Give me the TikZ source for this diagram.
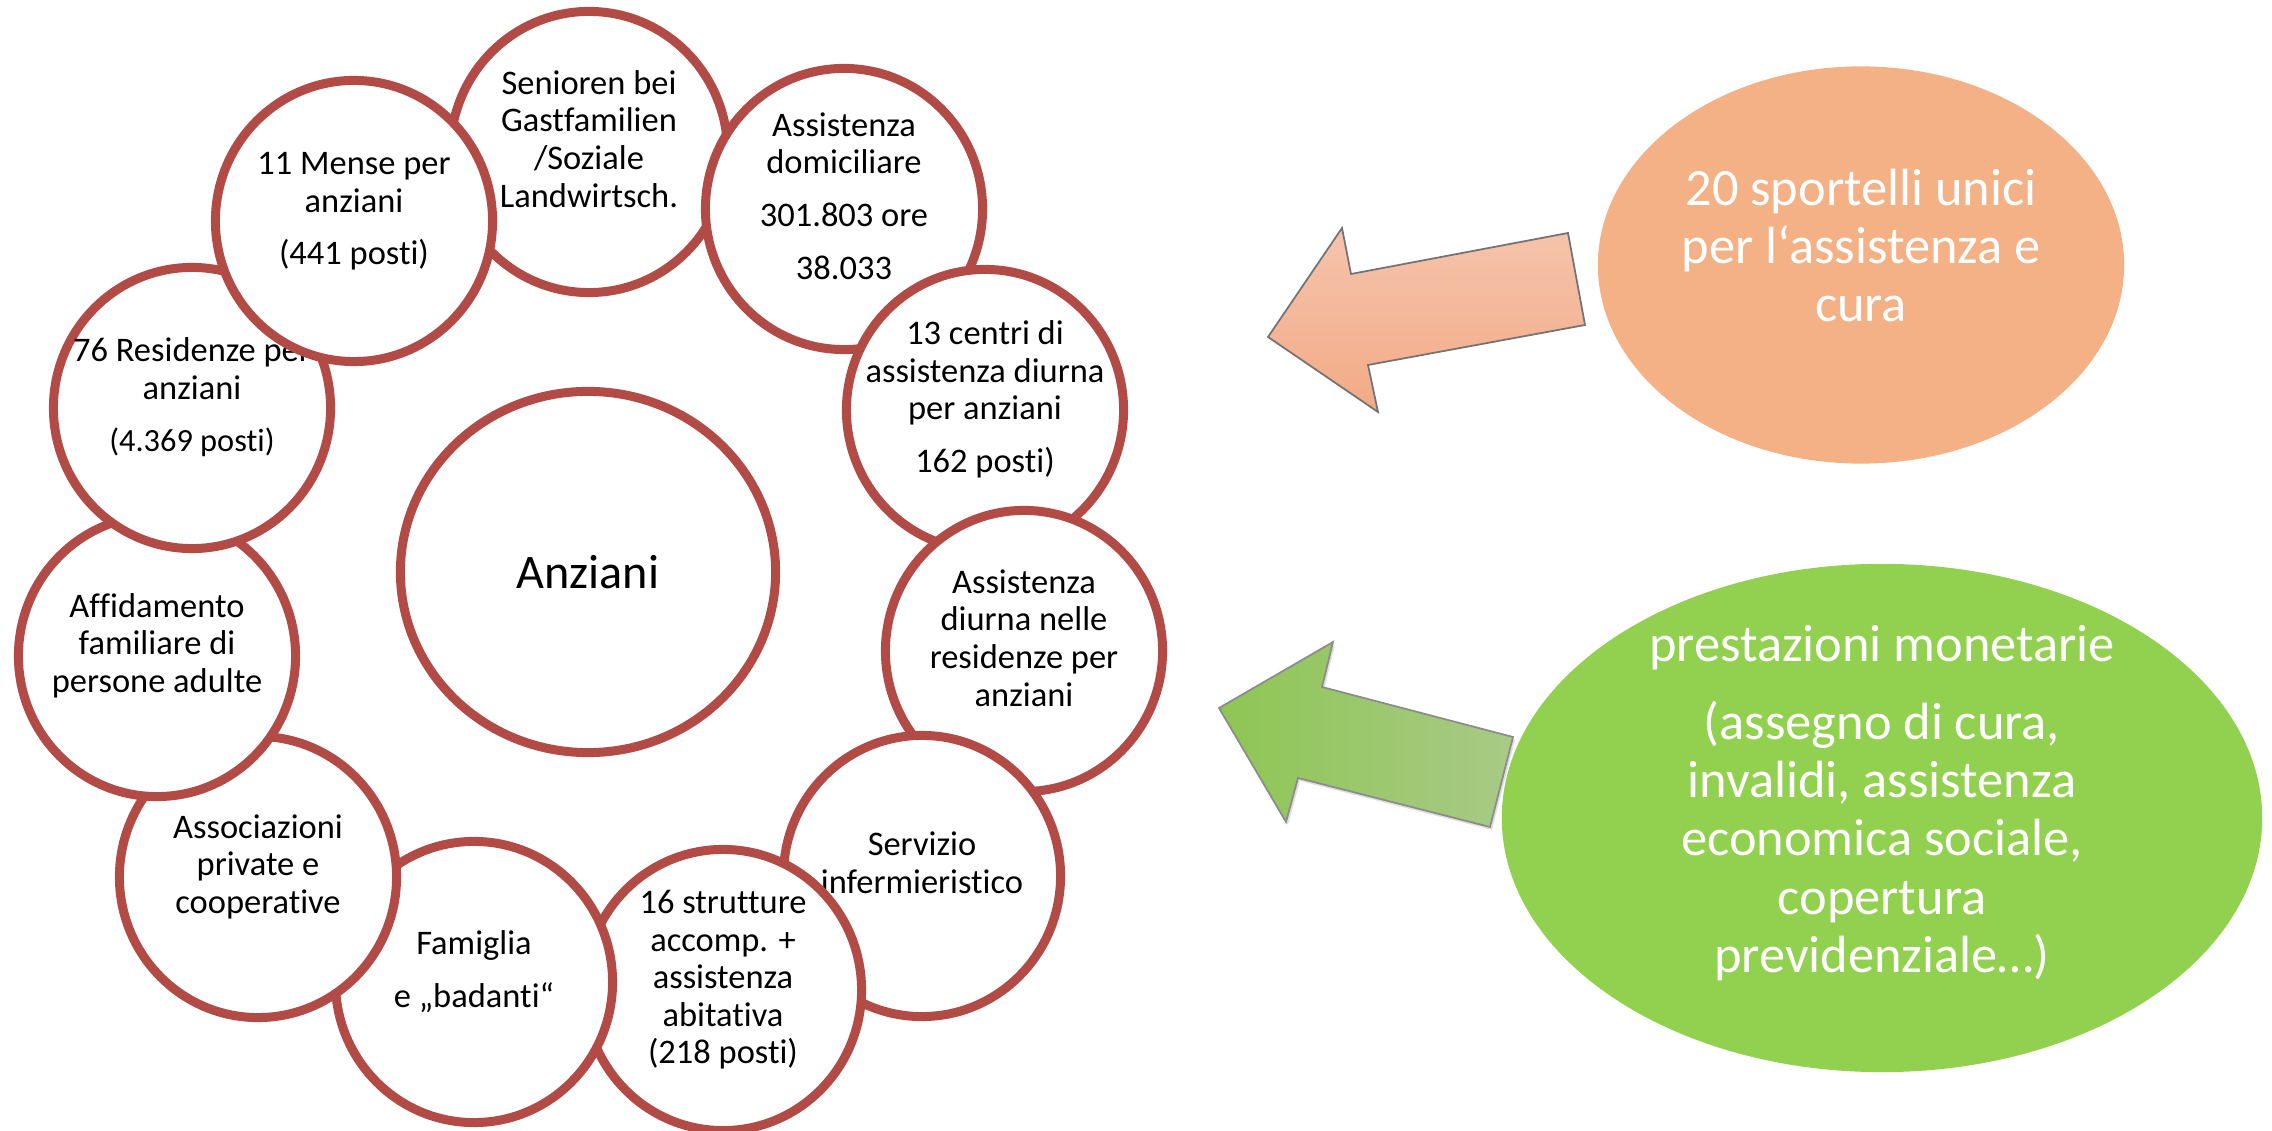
\documentclass[tikz,border=0pt]{standalone}
\usepackage{fontspec}
\setmainfont{Carlito}[Ligatures=NoCommon]
\usepackage{tikz}
\usetikzlibrary{shapes,shadows,calc}

\definecolor{ringred}{RGB}{178,74,70}
\definecolor{deskorange}{RGB}{243,177,133}
\definecolor{cashgreen}{RGB}{146,208,80}
\definecolor{salmonlight}{RGB}{245,196,172}
\definecolor{salmondark}{RGB}{243,170,134}
\definecolor{greenlight}{RGB}{168,202,134}
\definecolor{greendark}{RGB}{142,198,84}

% centred lines that do not change the size of the ellipse
\newcommand{\bubtext}[1]{\makebox[0pt]{\smash{\begin{tabular}{@{}c@{}}#1\end{tabular}}}}

\begin{document}
\begin{tikzpicture}[x=0.01cm, y=-0.01cm,
    font=\fontsize{9.8pt}{10.7pt}\selectfont,
    bubble/.style={
      ellipse, draw=ringred, line width=2.56pt, fill=white,
      minimum width=2.77cm, minimum height=2.81cm, inner sep=0pt,
      drop shadow={opacity=0.15, shadow xshift=0.02cm, shadow yshift=-0.04cm}
    },
    bigtext/.style={
      ellipse, inner sep=0pt, text=white,
      font=\fontsize{14.9pt}{16.5pt}\selectfont
    }
  ]
    \useasboundingbox (0,0) rectangle (2272,1131);

    % ring of services, drawn clockwise from the top
    \node[bubble] (sen) at (589,152) {\bubtext{Senioren bei\\Gastfamilien\\/Soziale\\Landwirtsch.}};
    \node[bubble] (dom) at (844,209) {\bubtext{Assistenza\\domiciliare\\[4.3pt]301.803 ore\\[4.3pt]38.033}};
    \node[bubble] (cen) at (985,410) {\bubtext{13 centri di\\assistenza diurna\\per anziani\\[4.3pt]162 posti)}};
    \node[bubble] (diu) at (1024,651) {\bubtext{Assistenza\\diurna nelle\\residenze per\\anziani}};
    \node[bubble] (inf) at (922,876) {\bubtext{Servizio\\infermieristico}};
    \node[bubble] (acc) at (723,990) {\bubtext{16 strutture\\accomp. +\\assistenza\\abitativa\\(218 posti)}};
    \node[bubble] (fam) at (474,982) {\bubtext{Famiglia\\[4.3pt]e „badanti“}};
    \node[bubble] (ass) at (258,877) {\bubtext{Associazioni\\private e\\cooperative}};
    \node[bubble] (aff) at (157,656) {\bubtext{Affidamento\\familiare di\\persone adulte}};
    \node[bubble] (res) at (192,408) {\bubtext{76 Residenze per\\anziani\\[4.3pt]{\fontsize{9.2pt}{10.7pt}\selectfont(4.369 posti)}}};
    \node[bubble] (men) at (354,221) {\bubtext{11 Mense per\\anziani\\[4.3pt](441 posti)}};

    \node[bubble, minimum width=3.75cm, minimum height=3.61cm,
      font=\fontsize{13.7pt}{16pt}\selectfont] (anz) at (588,572) {Anziani};

    % offers on the right
    \node[bigtext, fill=deskorange, minimum width=5.26cm, minimum height=3.97cm] (desk) at (1861,265)
      {\bubtext{20 sportelli unici\\per l‘assistenza e\\cura}};
    \node[bigtext, fill=cashgreen, minimum width=7.60cm, minimum height=5.08cm] (cash) at (1882,818)
      {\bubtext{prestazioni monetarie\\[5.7pt](assegno di cura,\\invalidi, assistenza\\economica sociale,\\copertura\\previdenziale…)}};

    % block arrows
    \shadedraw[top color=salmonlight, bottom color=salmondark, draw=black!55, line width=0.5pt]
      (1268,337) -- (1342,228) -- (1351,274) -- (1568,233) -- (1585,325)
      -- (1368,365) -- (1378,412) -- cycle;
    \shadedraw[left color=greendark, right color=greenlight, draw=black!45, line width=0.5pt,
      drop shadow={opacity=0.25, shadow xshift=0.02cm, shadow yshift=-0.03cm}]
      (1219,708) -- (1333,642) -- (1322,687) -- (1513,737) -- (1490,827)
      -- (1298,778) -- (1286,822) -- cycle;
\end{tikzpicture}
\end{document}
